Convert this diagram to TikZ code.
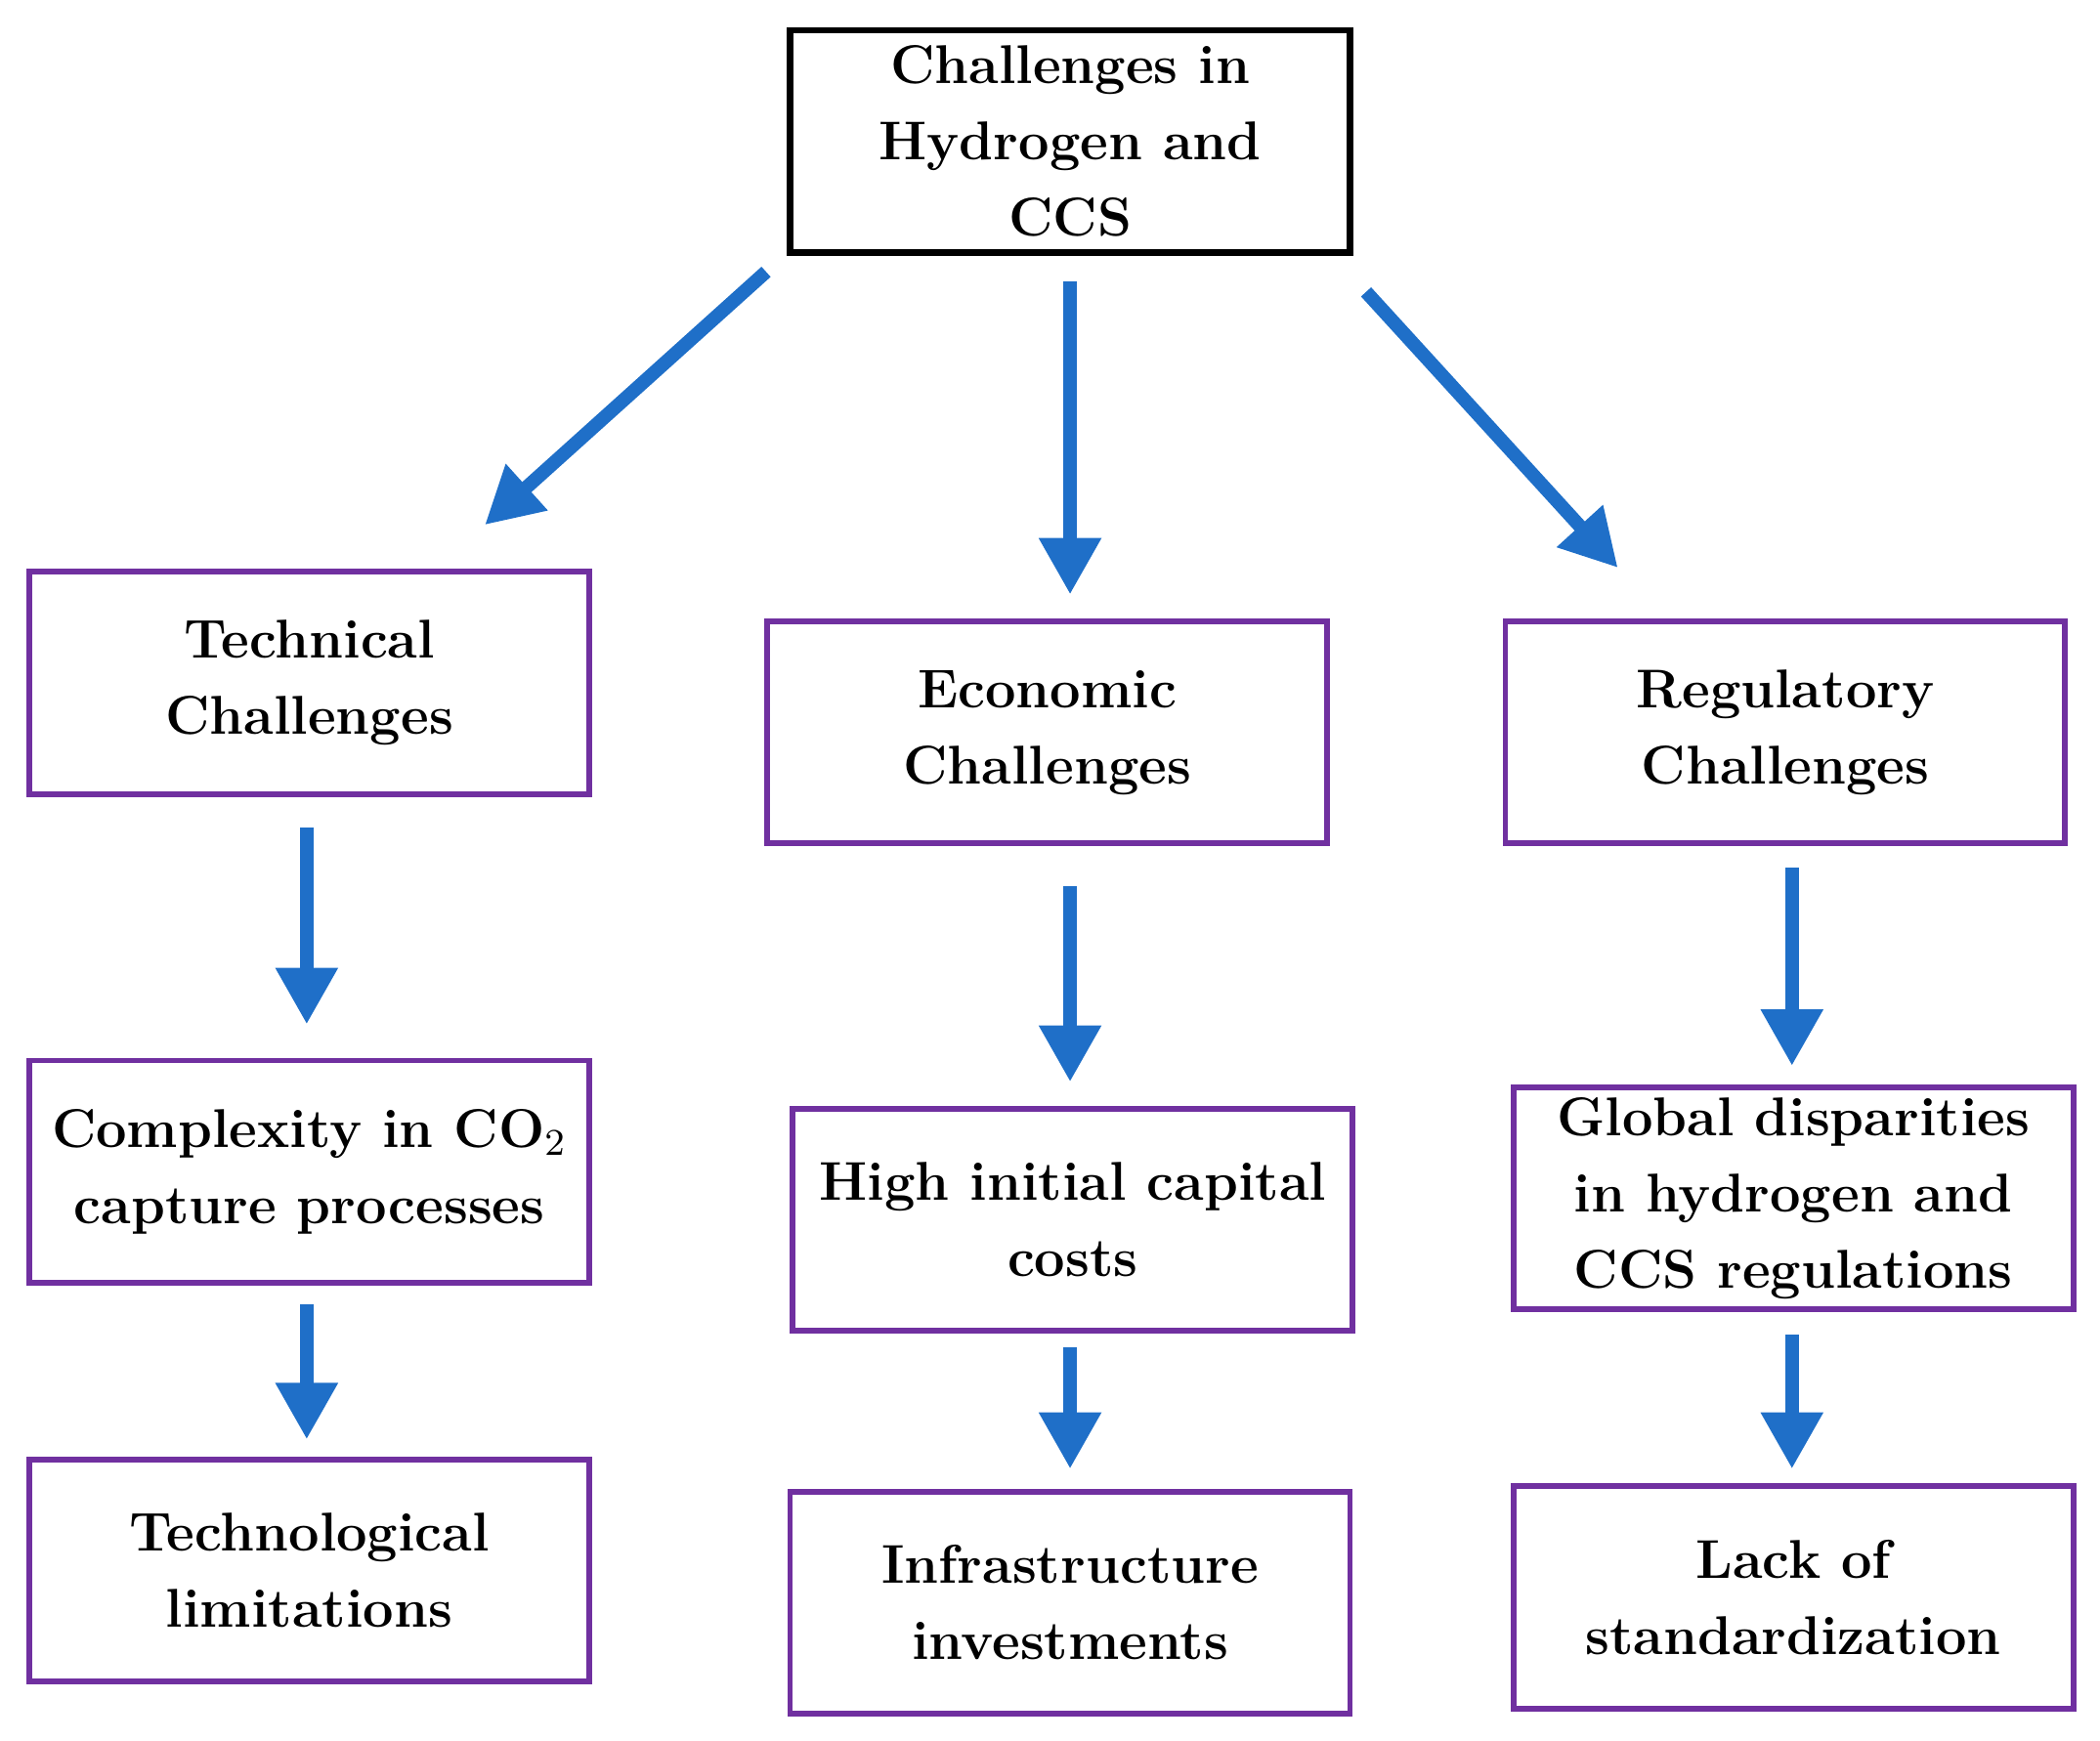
\documentclass[tikz,border=0pt]{standalone}
\usetikzlibrary{arrows.meta}
\definecolor{ablue}{RGB}{31,111,200}
\definecolor{bpurple}{RGB}{112,48,160}
\begin{document}
\begin{tikzpicture}[x=0.01cm,y=-0.01cm,
  box/.style={draw=bpurple,line width=1.2pt,minimum width=4.22cm-1.2pt,minimum height=1.70cm-1.2pt,align=center,font=\fontsize{11.6}{16.2}\selectfont\bfseries,inner sep=0pt},
  arr/.style={draw=ablue,line width=2.9pt,-{Triangle[length=12pt,width=12.5pt]}}]
\useasboundingbox (0,0) rectangle (1568,1300);
\node[box,draw=black,line width=1.4pt] (top) at (799,105.5) {Challenges in\\Hydrogen and\\CCS};
\node[box] (tech) at (231,510) {Technical\\Challenges};
\node[box] (econ) at (782,547) {Economic\\Challenges};
\node[box] (reg) at (1333,547) {Regulatory\\Challenges};
\node[box] (comp) at (231,875) {Complexity in CO$_2$\\capture processes};
\node[box] (high) at (801,911) {High initial capital\\costs};
\node[box] (glob) at (1339,895) {Global disparities\\in hydrogen and\\CCS regulations};
\node[box] (techl) at (231,1173) {Technological\\limitations};
\node[box] (infra) at (799,1197) {Infrastructure\\investments};
\node[box] (lack) at (1339,1193) {Lack of\\standardization};
\coordinate (a1s) at (572,203); \coordinate (a1e) at (362,392);
\coordinate (a2s) at (799,210); \coordinate (a2e) at (799,444);
\coordinate (a3s) at (1020,218); \coordinate (a3e) at (1208,424);
\coordinate (b1s) at (229,618); \coordinate (b1e) at (229,765);
\coordinate (b2s) at (229,974); \coordinate (b2e) at (229,1075);
\coordinate (c1s) at (799,662); \coordinate (c1e) at (799,808);
\coordinate (c2s) at (799,1006); \coordinate (c2e) at (799,1097);
\coordinate (d1s) at (1338,648); \coordinate (d1e) at (1338,796);
\coordinate (d2s) at (1338,997); \coordinate (d2e) at (1338,1097);
\foreach \s/\e in {a1s/a1e,a2s/a2e,a3s/a3e,b1s/b1e,b2s/b2e,c1s/c1e,c2s/c2e,d1s/d1e,d2s/d2e}
  \draw[arr] (\s) -- (\e);
\end{tikzpicture}
\end{document}
